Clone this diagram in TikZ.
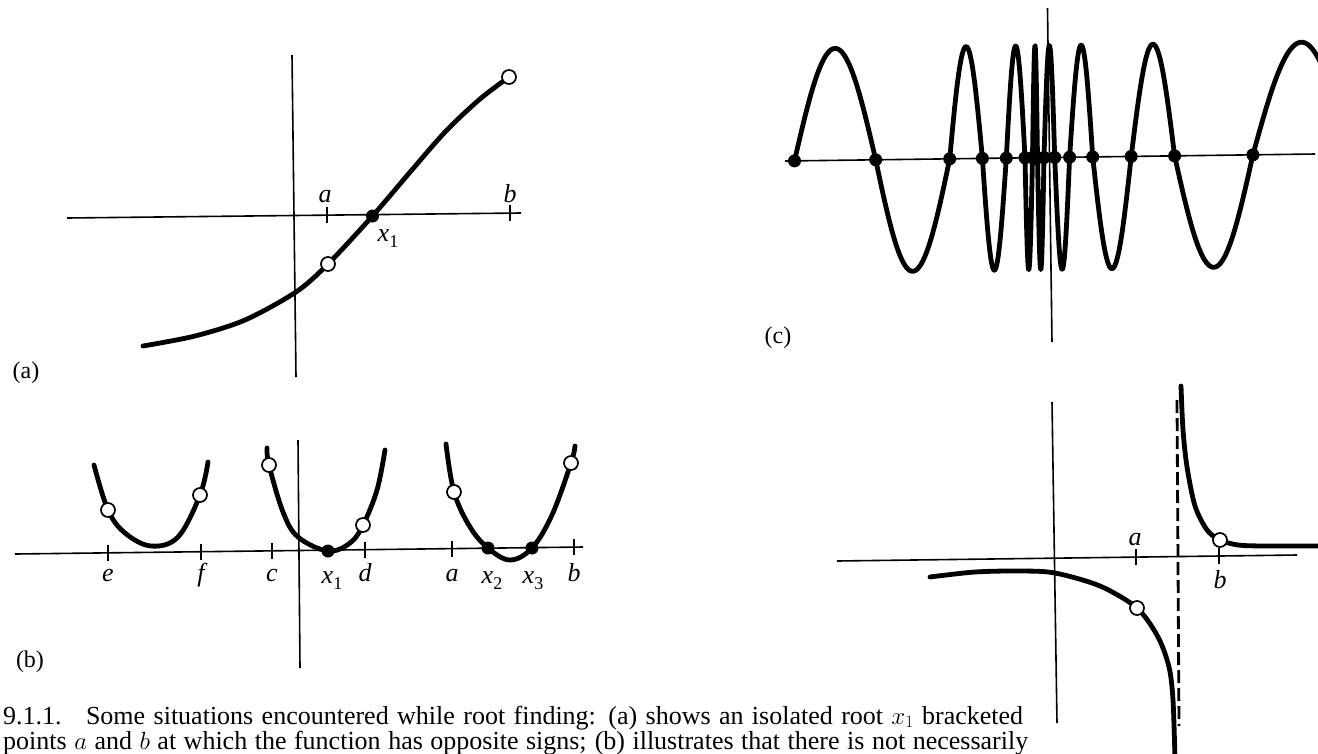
\documentclass[tikz,border=0pt]{standalone}
\usepackage{fontspec}
\setmainfont{Liberation Serif}
\newcommand{\lowidx}[1]{\raisebox{-6pt}{\fontsize{18}{18}\selectfont\upshape #1}}

\begin{document}
\begin{tikzpicture}[x=1pt, y=-1pt,
  axisline/.style={line width=1.6pt},
  tickmark/.style={line width=1.6pt},
  fcurve/.style={line width=4.8pt, line cap=round, line join=round},
  asymline/.style={line width=2.8pt, dash pattern=on 13pt off 5pt},
  root/.style={circle, fill, inner sep=0pt, minimum size=13pt},
  probe/.style={circle, draw, line width=1.7pt, fill=white, inner sep=0pt, minimum size=14pt},
  lbl/.style={font=\fontsize{26}{30}\selectfont\itshape, inner sep=0pt, anchor=base},
  tag/.style={font=\fontsize{24}{28}\selectfont, inner sep=0pt},
  capline/.style={font=\fontsize{26}{30}\selectfont, inner sep=0pt, anchor=base west},
  declare function={axc(\x)=161-(\x-785)*7/530;}
]
\clip (0,0) rectangle (1318,753);

% (a) isolated root between a and b
\draw[axisline] (67,218) -- (521,213);
\draw[axisline] (292,55) -- (296,377);
\coordinate (ta) at (327,215.1);
\coordinate (tb) at (510,213.1);
\draw[tickmark] ([yshift=-8pt]ta) -- ([yshift=8pt]ta);
\draw[tickmark] ([yshift=-8pt]tb) -- ([yshift=8pt]tb);
\draw[fcurve] plot[smooth, tension=0.5] coordinates {(143,346) (195,336) (245,320) (296,292) (328,264) (372.5,216) (411,171) (446,131) (480,99) (509,77)};
\node[probe] (pa1) at (328,264) {};
\node[probe] (pa2) at (509,77) {};
\node[root] (ra) at (372.5,216) {};
\node[lbl] (la) at (325,202.5) {a};
\node[lbl] (lb) at (510,202) {b};
\node[lbl] (lx) at (388,241) {x\lowidx{1}};
\node[tag] (tga) at (26,373) {(a)};

% (b) brackets with no root, a double root, and two roots
\draw[axisline] (15,554) -- (583,547);
\draw[axisline] (298,440) -- (300,668);
\foreach \t/\n/\tx in {108/e/e, 201/f/f, 272/c/c, 365/d/d, 452/a/a, 574/b/b} {
  \coordinate (t\n) at (\t,{554-(\t-15)*7/568});
  \draw[tickmark] ([yshift=-8pt]t\n) -- ([yshift=8pt]t\n);
  \node[lbl] (l\n) at (\t,581) {\tx};
}
\draw[fcurve] plot[smooth, tension=0.6] coordinates {(94,465) (108,510) (125,533) (151,546) (178,537) (200,495) (208,462)};
\draw[fcurve] plot[smooth, tension=0.6] coordinates {(267,448) (269,465) (283,512) (298,537) (328,551) (350,543) (363,525) (377,490) (385,450)};
\draw[fcurve] plot[smooth, tension=0.6] coordinates {(446,444) (454,492) (470,527) (488,548) (510,560) (532,548) (552,515) (571,463) (575,446)};
\node[probe] (pb1) at (108,510) {};
\node[probe] (pb2) at (200,495) {};
\node[probe] (pb3) at (269,465) {};
\node[probe] (pb4) at (363,525) {};
\node[probe] (pb5) at (454,492) {};
\node[probe] (pb6) at (571,463) {};
\node[root] (rb1) at (328,551) {};
\node[root] (rb2) at (488,548) {};
\node[root] (rb3) at (532,548) {};
\node[lbl] (lx1) at (332,583) {x\lowidx{1}};
\node[lbl] (lx2) at (492,583) {x\lowidx{2}};
\node[lbl] (lx3) at (533,583) {x\lowidx{3}};
\node[tag] (tgb) at (30,662) {(b)};

% (c) many roots crowding near the origin
\draw[axisline] (785,161) -- (1315,154);
\draw[axisline] (1047.5,8) -- (1052,342);
\foreach \za/\zb/\sg in {794.5/875.7/1, 875.7/949.7/-1, 949.7/982.4/1, 982.4/1006.3/-1,
    1006.3/1025/1, 1025/1032.5/-1, 1032.5/1037.5/1, 1037.5/1044/-1, 1044/1054.7/1,
    1054.7/1069.6/-1, 1069.6/1092.7/1, 1092.7/1131.2/-1, 1131.2/1174.6/1,
    1174.6/1252.9/-1, 1252.9/1350/1}
  \draw[fcurve] plot[domain=0:180, samples=40]
    ({\za+(\zb-\za)*(\x/180)}, {axc(\za+(\zb-\za)*(\x/180))-\sg*112*sin(\x)});
\foreach \z [count=\i] in {794.5, 875.7, 949.7, 982.4, 1006.3, 1025, 1032.5, 1037.5, 1044,
    1054.7, 1069.6, 1092.7, 1131.2, 1174.6, 1252.9}
  \node[root] (rc\i) at (\z,{axc(\z)}) {};
\node[tag] (tgc) at (778,338) {(c)};

% (d) a pole between a and b
\draw[axisline] (837,561) -- (1297,555);
\draw[axisline] (1052,402) -- (1057,723);
\coordinate (tda) at (1136,557.1);
\coordinate (tdb) at (1219,556);
\draw[tickmark] ([yshift=-8pt]tda) -- ([yshift=8pt]tda);
\draw[tickmark] ([yshift=-8pt]tdb) -- ([yshift=8pt]tdb);
\draw[asymline] (1177,400) -- (1179,726);
\draw[fcurve] plot[smooth, tension=0.5] coordinates {(1181,386) (1183,430) (1187,467) (1195,506) (1207,530) (1220,540) (1238,545) (1265,546) (1320,546)};
\draw[fcurve] plot[smooth, tension=0.5] coordinates {(930,577) (975,572) (1020,571) (1055,573) (1100,586) (1137,608) (1158,637) (1169,667) (1173,700) (1175,760)};
\node[probe] (pd1) at (1137,608) {};
\node[probe] (pd2) at (1220,540) {};
\node[lbl] (lda) at (1135,545.5) {a};
\node[lbl] (ldb) at (1220,588) {b};

% caption
\node[capline] (cap1) at (3,724) {\makebox[1020pt][s]{9.1.1.\hspace{10pt} Some situations encountered while root finding: (a) shows an isolated root $x_1$ bracketed}};
\node[capline] (cap2) at (3,749) {\makebox[1025pt][s]{points $a$ and $b$ at which the function has opposite signs; (b) illustrates that there is not necessarily}};
\end{tikzpicture}
\end{document}
